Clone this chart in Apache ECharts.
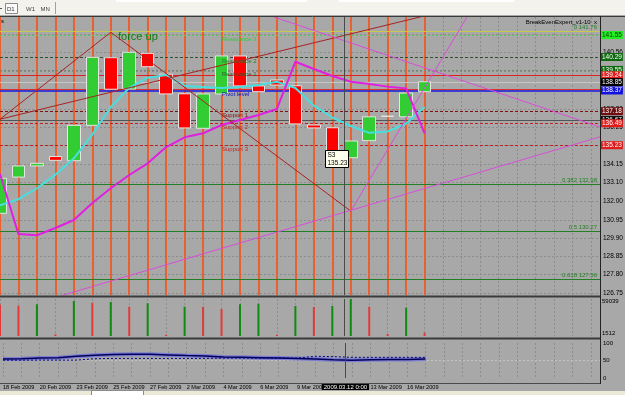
<!DOCTYPE html>
<html><head><meta charset="utf-8">
<script src="https://cdn.jsdelivr.net/npm/echarts@6/dist/echarts.min.js"></script>
<style>html,body{margin:0;padding:0;background:#a8a8a8;overflow:hidden}#c{width:625px;height:395px;}</style>
</head><body><div id="c"></div>
<script>
// ---------------- data ----------------
const dates = ['18 Feb 2009','19 Feb 2009','20 Feb 2009','22 Feb 2009','23 Feb 2009','24 Feb 2009','25 Feb 2009','26 Feb 2009','27 Feb 2009','1 Mar 2009','2 Mar 2009','3 Mar 2009','4 Mar 2009','5 Mar 2009','6 Mar 2009','8 Mar 2009','9 Mar 2009','10 Mar 2009','11 Mar 2009','12 Mar 2009','13 Mar 2009','15 Mar 2009','16 Mar 2009','17 Mar 2009'];
const dateLabelIdx = [0,2,4,6,8,10,12,14,16,20,22];
const opens  = [131.32,133.40,134.04,134.58,134.34,136.37,140.25,138.45,140.50,139.30,138.18,136.20,138.17,140.35,138.63,138.97,138.64,136.39,136.23,134.51,135.49,136.88,136.86,138.30];
const closes = [133.33,134.04,134.19,134.36,136.37,140.27,138.44,140.56,139.73,138.17,136.22,138.17,140.35,138.63,138.30,138.68,136.45,136.22,134.54,135.47,136.86,136.90,138.22,138.87];
const volumes = [50000,48400,50600,2700,55900,53200,54300,46800,52200,2100,46800,46500,43100,50600,51500,2100,47900,46300,47900,59039,46800,3200,45200,5300];
const maCyan    = [131.78,132.13,132.76,133.54,134.48,135.84,137.42,138.52,139.10,139.26,138.63,138.57,138.51,138.57,138.68,138.87,138.51,137.50,136.82,136.33,135.94,136.02,136.47,137.42];
const maMagenta = [133.58,130.13,130.06,130.48,130.94,131.91,132.76,133.52,134.19,135.12,135.68,135.91,136.39,136.68,136.96,137.31,140.02,139.60,139.20,138.87,138.74,138.59,138.49,135.91];
const indSolid  = [54,55,57,58,62,65,67,68,68,66,64,63,60,59,58,57,56,54,52,51,52,53,53,54];
const indDashed = [51,51,51,51,51,55,56,56,56,56,56,56,57,57,57,57,57,62,61,59,59,59,59,59];
const tickValues = [126.75,127.80,128.85,129.90,130.95,132.00,133.10,134.15,135.20,136.25,137.30,138.40,139.45,140.56,141.60];
const levelPrices = [141.55,140.29,139.55,139.24,138.85,138.37,137.18,136.67,136.49,135.23];
const levelLabels = ['141.55','140.29','139.55','139.24','138.85','138.37','137.18','136.67','136.49','135.23'];
const extraLinePrices = [141.78,138.42];
const fibRatios = ['0','0.382','0.5','0.618'];
const fibPrices = [141.76,132.98,130.27,127.56];
const srNames  = ['Resistance 3','Resistance 2','Resistance 1','Pivot level','Support 1','Support 2','Support 3'];
const srPrices = [141.55,140.29,139.55,138.37,137.18,136.49,135.23];
const trendRed1 = [[0,136.72],[6,141.71]];
const trendRed2 = [[0,136.72],[23,142.65]];
const trendRed3 = [[6,141.71],[19,131.45]];
const trendMag1 = [[19,131.45],[25.4,142.77]];
const trendMag2 = [[3.3,126.59],[32.5,135.71]];
const trendMag3 = [[14.5,142.71],[32.5,136.27]];
const crossIdx = 18.64, crossPrice = 136.67, crossLabel = '2009.03.12 0:00';
const volTickLabels = ['59039','1512'];
const tipLines = ['S3','135.23'];

// ---------------- styles ----------------
const FF = 'Liberation Sans';
const levelStyles = [
  {line:{color:'#5ccc5c',type:[2,2],width:1}, bg:'#22ee22', fg:'#103010'},
  {line:{color:'#2f4f2f',type:[3,2],width:1}, bg:'#0d6a0d', fg:'#fff'},
  {line:{color:'#6f886f',type:[2,2],width:1}, bg:'#0d6a0d', fg:'#fff'},
  {line:{color:'#dd2222',type:'solid',width:1}, bg:'#e01b1b', fg:'#fff'},
  {line:{color:'#c6c6c6',type:'solid',width:1}, bg:'#000', fg:'#fff'},
  {line:{color:'#1a1ae0',type:'solid',width:1.5}, bg:'#1010e0', fg:'#fff'},
  {line:{color:'#7a1010',type:[3,2],width:1}, bg:'#6e0e0e', fg:'#fff'},
  {line:{color:'#555555',type:'solid',width:1}, bg:'#000', fg:'#fff'},
  {line:{color:'#c02020',type:[3,2],width:1}, bg:'#e01b1b', fg:'#fff'},
  {line:{color:'#c02020',type:[3,2],width:1}, bg:'#e01b1b', fg:'#fff'}
];
const extraLineColors = ['#c8c84a','#e03030'];
const fibColors = ['#c8c84a','#237f23','#237f23','#237f23'];
const srColors = ['#33cc33','#2c7a2c','#2c5c2c','#1010c0','#7a1010','#c02828','#c02828'];

const candleData = opens.map((o,i)=>[i,o,closes[i],Math.min(o,closes[i]),Math.max(o,closes[i])]);
const ML = {silent:true, symbol:['none','none'], animation:false};

function trend(d,color,w){return {type:'line',xAxisIndex:0,yAxisIndex:0,data:d,symbol:'none',z:7,silent:true,lineStyle:{color:color,width:w}};}

const option = {
  animation:false,
  backgroundColor:'#a8a8a8',
  textStyle:{fontFamily:FF},
  grid:[
    {left:-1.25, top:17, width:601.25, height:278},
    {left:-1.25, top:299, width:601.25, height:37},
    {left:-1.25, top:343, width:601.25, height:35}
  ],
  xAxis:[0,1,2].map(g=>({
    type:'value', gridIndex:g, min:0, max:32.5, interval:1,
    axisLine:{show:false}, axisTick:{show:false},
    axisLabel: g===2 ? {show:true, fontSize:5.6, color:'#000', align:'left', margin:6,
      formatter:(v)=>{const i=Math.round(v); return (Math.abs(v-i)<1e-6 && dateLabelIdx.includes(i)) ? dates[i] : '';}} : {show:false},
    splitLine:{show:true, lineStyle:{color:'#8c8c8c', type:[2,2], width:1}}
  })),
  yAxis:[
    {type:'value', gridIndex:0, min:126.635, max:142.585, show:false},
    {type:'value', gridIndex:1, min:0, max:59039, show:false},
    {type:'value', gridIndex:2, min:0, max:100, interval:50, position:'right',
      axisLine:{show:false}, axisTick:{show:false}, splitLine:{show:false},
      axisLabel:{fontSize:6, color:'#000', margin:3}}
  ],
  series:[
    {type:'line', xAxisIndex:0, yAxisIndex:0, data:[], z:1,
      markLine:Object.assign({}, ML, {z:1, lineStyle:{color:'#8c8c8c',type:[2,2],width:1},
        label:{show:true, position:'end', distance:3, fontSize:6.5, color:'#000'},
        data: tickValues.map(v=>({yAxis:v, label:{formatter:v.toFixed(2)}}))})},
    {type:'line', xAxisIndex:0, yAxisIndex:0, data:[], z:2,
      markLine:Object.assign({}, ML, {z:2, lineStyle:{color:'#e8612f',type:'solid',width:2}, label:{show:false},
        data: dates.map((d,i)=>({xAxis:i}))})},
    {type:'line', xAxisIndex:0, yAxisIndex:0, data:[], z:3,
      markLine:Object.assign({}, ML, {z:3, label:{show:false},
        data: extraLinePrices.map((p,i)=>({yAxis:p, lineStyle:{color:extraLineColors[i],type:'solid',width:1}}))
          .concat(fibPrices.map((p,i)=>({yAxis:p, lineStyle:{color:fibColors[i],type:'solid',width:1},
            label:{show:true, position:'insideEndTop', distance:[3,1], fontSize:6, color:'#237f23', formatter:fibRatios[i]+' '+p.toFixed(2)}})))})},
    {type:'line', xAxisIndex:0, yAxisIndex:0, data:[], z:4,
      markLine:Object.assign({}, ML, {z:4,
        data: levelPrices.map((p,i)=>({yAxis:p, lineStyle:levelStyles[i].line,
          label:{show:true, position:'end', distance:1, fontSize:6.5, color:levelStyles[i].fg,
            backgroundColor:levelStyles[i].bg, padding:[1,1,0,1], formatter:levelLabels[i]}}))})},
    {type:'candlestick', xAxisIndex:0, yAxisIndex:0, z:5, barWidth:13,
      dimensions:['x','open','close','low','high'], encode:{x:0, y:[1,2,3,4]},
      data:candleData,
      itemStyle:{color:'#32cd32', color0:'#ff0000', borderColor:'#e4e4e4', borderColor0:'#e4e4e4', borderWidth:1}},
    {type:'line', xAxisIndex:0, yAxisIndex:0, z:6, symbol:'none', silent:true,
      data:maCyan.map((v,i)=>[i,v]), lineStyle:{color:'#48dede', width:2}},
    {type:'line', xAxisIndex:0, yAxisIndex:0, z:6, symbol:'none', silent:true,
      data:maMagenta.map((v,i)=>[i,v]), lineStyle:{color:'#e020e0', width:2}},
    trend(trendRed1,'#a82222',1),
    trend(trendRed2,'#a82222',1),
    trend(trendRed3,'#a82222',1),
    trend(trendMag1,'#d84ed8',1),
    trend(trendMag2,'#d84ed8',1),
    trend(trendMag3,'#d84ed8',1),
    {type:'line', xAxisIndex:0, yAxisIndex:0, data:[], z:8,
      markLine:Object.assign({}, ML, {z:8, lineStyle:{color:'#4a4a4a',type:'solid',width:1}, label:{show:false},
        data:[{xAxis:crossIdx}]})},
    {type:'bar', xAxisIndex:1, yAxisIndex:1, barWidth:2, z:5, silent:true,
      data:volumes.map((v,i)=>({value:[i,v], itemStyle:{color:(i>0 && v>volumes[i-1]) ? '#108a10' : '#e23a3a'}})),
      markLine:Object.assign({}, ML, {z:8, lineStyle:{color:'#4a4a4a',type:'solid',width:1}, label:{show:false},
        data:[{xAxis:crossIdx}]})},
    {type:'line', xAxisIndex:2, yAxisIndex:2, z:5, symbol:'none', silent:true,
      data:indSolid.map((v,i)=>[i,v]), lineStyle:{color:'#7c7cd0', width:4},
      markLine:Object.assign({}, ML, {z:3, lineStyle:{color:'#c4c4c4',type:[2,2],width:1}, label:{show:false},
        data:[{yAxis:50}]})},
    {type:'line', xAxisIndex:2, yAxisIndex:2, z:6, symbol:'none', silent:true,
      data:indSolid.map((v,i)=>[i,v]), lineStyle:{color:'#00005a', width:1.5}},
    {type:'line', xAxisIndex:2, yAxisIndex:2, z:6, symbol:'none', silent:true,
      data:indDashed.map((v,i)=>[i,v]), lineStyle:{color:'#000080', width:1, type:[2,2]},
      markLine:Object.assign({}, ML, {z:8, lineStyle:{color:'#4a4a4a',type:'solid',width:1},
        label:{show:true, position:'start', distance:5, fontSize:6, color:'#fff', backgroundColor:'#000', padding:[1,2,0,2], formatter:crossLabel},
        data:[{xAxis:crossIdx}]})}
  ]
};

const chart = echarts.init(document.getElementById('c'), null, {renderer:'canvas'});
chart.setOption(option);

const px = (u,p)=>chart.convertToPixel({gridIndex:0},[u,p]);
const g = [];
const T = (x,y,text,opt)=>Object.assign({type:'text', x:x, y:y, z:60, silent:true,
  style:Object.assign({text:text, fill:'#000', fontSize:6, fontFamily:FF, align:'left', verticalAlign:'middle'}, opt||{})});
const R = (x,y,w,h,fill,stroke,z)=>({type:'rect', z:z||55, silent:true, shape:{x:x,y:y,width:w,height:h}, style:{fill:fill, stroke:stroke||null, lineWidth:1}});
const L = (x1,y1,x2,y2,color,w)=>({type:'line', z:70, silent:true, shape:{x1:x1,y1:y1,x2:x2,y2:y2}, style:{stroke:color, lineWidth:w||1}});

// toolbar
g.push(R(0,0,625,15,'#f3f2ec'));
g.push(R(116,0,191,2,'#ffffff'), R(339,0,175,2,'#ffffff'));
g.push(R(5.5,3.5,12,10,'#fbfbfb','#8a8a8a'));
g.push(T(7,9,'D1',{fill:'#333',fontSize:6}), T(26,9,'W1',{fill:'#444',fontSize:6}), T(40.5,9,'MN',{fill:'#444',fontSize:6}));
g.push(L(55.5,2,55.5,14,'#a0a0a0',1), L(0,8.5,2,8.5,'#555',1));
// frames
g.push(L(0,16.5,625,16.5,'#3a3a3a',1));
g.push(L(0,296.5,600,296.5,'#3a3a3a',2));
g.push(L(0,338.5,600,338.5,'#3a3a3a',2));
g.push(L(0,383.5,600,383.5,'#4a4a4a',1));
g.push(L(600.5,16,600.5,384,'#222',1));
// bottom tab strip
g.push(R(0,391,625,4,'#ece9d8'));
g.push(R(91.5,390.5,52,5,'#ffffff','#8a8a8a'));
// header texts
g.push(T(1,21,'s',{fontSize:6}));
g.push(T(597,22.5,'BreakEvenExpert_v1-10  x',{align:'right',fontSize:6}));
// force up
g.push(T(118,36.5,'force up',{fill:'#127a12',fontSize:11}));
// S/R names
srNames.forEach((n,i)=>{ const y = px(0,srPrices[i])[1] + 4.2; g.push(T(222,y,n,{fill:srColors[i],fontSize:6})); });
// volume axis labels
g.push(T(602,301,volTickLabels[0],{fontSize:6}));
g.push(T(602,333.5,volTickLabels[1],{fontSize:6}));
// tooltip box
g.push(R(325.5,150.5,23,17,'#ffffee','#000',80));
g.push(Object.assign(T(327.5,155,tipLines[0],{fontSize:6.5}),{z:81}));
g.push(Object.assign(T(327.5,163,tipLines[1],{fontSize:6.5}),{z:81}));
chart.setOption({graphic:g});
</script>
</body></html>
